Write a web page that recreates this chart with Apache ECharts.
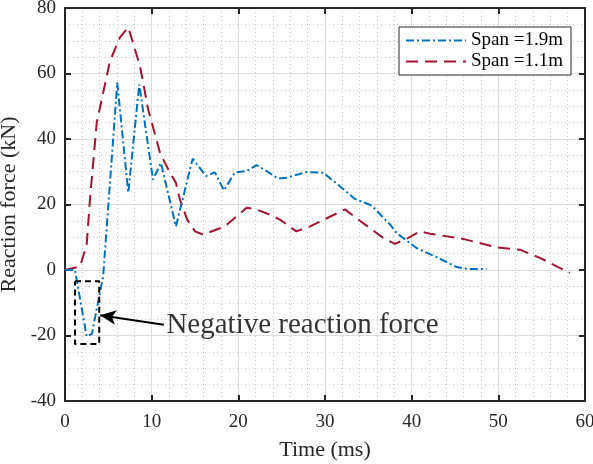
<!DOCTYPE html>
<html><head><meta charset="utf-8">
<script src="https://cdn.jsdelivr.net/npm/echarts@6/dist/echarts.min.js"></script>
<style>html,body{margin:0;padding:0;background:#fff}#c{width:593px;height:464px}</style>
</head><body><div id="c"></div>
<script>
var span19 = [[0,0],[1.15,0],[2.5,-20.3],[3.1,-19.5],[3.8,-10],[4.4,-2],[6.03,57.2],[7.3,23.6],[8.57,56.7],[10.15,27.6],[11.07,32.7],[12.8,13.3],[14.73,34],[16.26,28.7],[17.3,29.8],[18.34,24.3],[19.6,29.8],[20.96,30.2],[22.1,32],[23.26,30.2],[24.6,27.9],[25.57,28.2],[27.88,29.9],[29.8,29.7],[31.7,25.6],[33.45,21.7],[35.37,19.7],[37.5,13.9],[38.26,11.3],[40.56,6.7],[43.06,3.7],[45.18,0.9],[46.5,0.3],[48.64,0.3]];
var span11 = [[0,0],[1.73,1.1],[2.5,7.7],[2.88,21.5],[3.66,45],[5.19,63.8],[6.34,71],[7.3,74.1],[8.65,62.3],[9.6,49],[10.96,35.8],[12.1,29.7],[12.8,26.6],[13.26,21.5],[14.1,15.4],[15,11.8],[15.95,10.8],[18.45,13.3],[20.96,19],[22.1,18.5],[23.64,16.9],[24.8,15.4],[26.7,11.8],[28.26,13.3],[32.3,18.5],[33.6,15.9],[36.7,9.8],[38.06,8.0],[39.4,9.5],[40.95,11.8],[42.1,11.1],[45.94,9.5],[49.8,6.9],[52.5,6.2],[54.8,3.7],[58.25,-0.9]];
var boxPts = [[1.15,-3.4],[3.95,-3.4],[3.95,-22.6],[1.15,-22.6],[1.15,-3.4]];
var arrowFrom = [11.4,-16.7];
var arrowTo = [4.05,-13.8];
var labelAt = [11.7,-17.0];
var seriesNames = ['Span =1.9m','Span =1.1m'];
var noteText = 'Negative reaction force';

var F = 'Liberation Serif';
var chart = echarts.init(document.getElementById('c'));
function ax(extra){
  return Object.assign({
    axisLine:{show:true,onZero:false,lineStyle:{color:'#262626',width:2}},
    axisTick:{show:true,inside:true,length:6,lineStyle:{color:'#262626',width:2}},
    minorTick:{show:false},
    axisLabel:{color:'#262626',fontFamily:F,fontSize:19}
  }, extra);
}
chart.setOption({
  animation:false,
  grid:{left:65,right:8,top:8,bottom:63,containLabel:false,outerBoundsMode:'none'},
  legend:{
    data:seriesNames, orient:'vertical', right:22, top:27,
    itemWidth:60, itemHeight:14, itemGap:2, padding:[4,8,4,6],
    backgroundColor:'#fff', borderColor:'#262626', borderWidth:1,
    itemStyle:{color:'rgba(0,0,0,0)',borderWidth:0,opacity:0},
    textStyle:{fontFamily:F,fontSize:19,color:'#000'}
  },
  xAxis:[
    ax({type:'value',min:0,max:60,interval:10,name:'Time (ms)',nameLocation:'middle',nameGap:38,
      nameTextStyle:{fontFamily:F,fontSize:22,color:'#262626'},
      axisLabel:{color:'#262626',fontFamily:F,fontSize:19,margin:12},
      minorTick:{show:false,splitNumber:5},
      splitLine:{show:true,lineStyle:{color:'#dcdcdc',width:1}},
      minorSplitLine:{show:true,lineStyle:{color:'#c8c8c8',width:1,type:[1,3]}}}),
    ax({type:'value',position:'top',min:0,max:60,interval:10,axisLabel:{show:false},splitLine:{show:false}})
  ],
  yAxis:[
    ax({type:'value',min:-40,max:80,interval:20,name:'Reaction force (kN)',nameLocation:'middle',nameGap:42,
      nameTextStyle:{fontFamily:F,fontSize:22,color:'#262626'},
      axisLabel:{color:'#262626',fontFamily:F,fontSize:19,margin:9},
      minorTick:{show:false,splitNumber:4},
      splitLine:{show:true,lineStyle:{color:'#dcdcdc',width:1}},
      minorSplitLine:{show:true,lineStyle:{color:'#c8c8c8',width:1,type:[1,3]}}}),
    ax({type:'value',position:'right',min:-40,max:80,interval:20,axisLabel:{show:false},splitLine:{show:false}})
  ],
  series:[
    {name:seriesNames[0],type:'line',data:span19,symbol:'none',z:4,
      itemStyle:{color:'#0072BD'},lineStyle:{color:'#0072BD',width:2,type:[8,3,2,3]}},
    {name:seriesNames[1],type:'line',data:span11,symbol:'none',z:3,
      itemStyle:{color:'#A2142F'},lineStyle:{color:'#A2142F',width:2,type:[12,7]}},
    {name:'box',type:'line',data:boxPts,symbol:'none',z:5,silent:true,
      lineStyle:{color:'#000',width:2,type:[6,4]},
      markLine:{silent:true,symbol:['none','arrow'],symbolSize:[11,16],
        lineStyle:{color:'#000',width:2,type:'solid'},label:{show:false},
        data:[[{coord:arrowFrom},{coord:arrowTo}]]}},
    {name:'note',type:'scatter',data:[labelAt],symbolSize:0,silent:true,
      label:{show:true,position:'right',distance:0,formatter:noteText,fontFamily:F,fontSize:29,color:'#000'}}
  ]
});
</script></body></html>
